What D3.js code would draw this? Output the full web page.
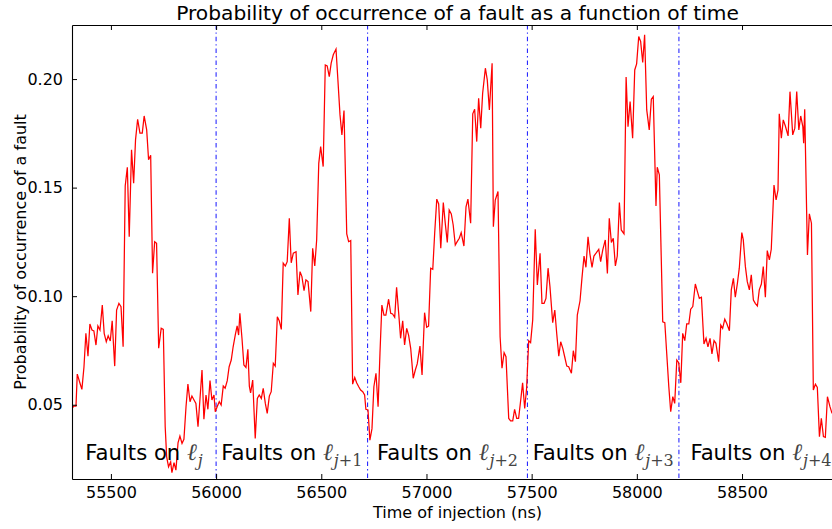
<!DOCTYPE html>
<html>
<head>
<meta charset="utf-8">
<script src="https://cdn.jsdelivr.net/npm/d3@7"></script>
<style>
  html, body { margin: 0; padding: 0; background: #fff; }
  svg { display: block; }
  text { font-family: "DejaVu Sans", sans-serif; }
</style>
</head>
<body>
<svg id="chart" width="832" height="529"></svg>
<script>
// Injection time (ns) of each measurement
const times = [
  55316,55324,55334,55340,55353,55362,55372,55381,55391,55400,55410,55419,55429,55438,55448,55459,
  55468,55478,55487,55497,55506,55518,55527,55538,55548,55558,55568,55578,55587,55598,55608,55617,
  55627,55638,55649,55658,55670,55679,55689,55698,55708,55717,55727,55739,55749,55758,55765,55774,
  55784,55790,55800,55809,55819,55828,55838,55847,55857,55866,55876,55885,55895,55904,55914,55923,
  55933,55942,55952,55961,55971,55980,55990,55996,56005,56015,56024,56034,56043,56053,56062,56072,
  56081,56091,56100,56107,56113,56123,56132,56142,56151,56158,56164,56174,56186,56196,56205,56215,
  56224,56234,56243,56253,56262,56272,56281,56291,56300,56310,56319,56329,56338,56348,56357,56367,
  56380,56389,56399,56408,56418,56427,56437,56450,56459,56469,56478,56488,56497,56509,56519,56528,
  56538,56547,56557,56570,56579,56589,56598,56608,56621,56630,56640,56649,56659,56668,56678,56687,
  56697,56706,56712,56722,56731,56741,56750,56760,56770,56779,56788,56798,56807,56820,56830,56839,
  56849,56858,56868,56877,56887,56896,56906,56915,56925,56937,56947,56956,56969,56979,56991,57001,
  57010,57020,57030,57039,57049,57058,57068,57080,57089,57099,57108,57118,57127,57137,57146,57156,
  57165,57178,57188,57197,57210,57220,57229,57239,57248,57258,57267,57280,57289,57299,57312,57318,
  57327,57340,57350,57359,57369,57378,57391,57400,57410,57419,57429,57438,57448,57457,57467,57476,
  57486,57495,57505,57517,57527,57540,57549,57559,57568,57578,57587,57600,57610,57619,57629,57638,
  57648,57657,57667,57676,57689,57698,57708,57717,57730,57739,57749,57758,57768,57777,57787,57796,
  57806,57819,57828,57838,57850,57860,57869,57879,57888,57898,57907,57917,57926,57939,57949,57958,
  57968,57980,57990,57999,58009,58018,58028,58037,58047,58059,58069,58078,58091,58097,58107,58123,
  58133,58142,58152,58161,58171,58180,58190,58199,58209,58218,58228,58237,58247,58256,58266,58278,
  58288,58297,58307,58319,58329,58338,58348,58357,58367,58376,58389,58399,58408,58418,58427,58440,
  58449,58459,58468,58478,58487,58499,58506,58516,58525,58535,58544,58554,58563,58573,58582,58592,
  58601,58611,58620,58630,58639,58652,58662,58671,58677,58687,58696,58706,58719,58728,58741,58751,
  58760,58770,58779,58789,58793,58798,58811,58820,58830,58839,58849,58858,58868,58877,58887,58896,
  58906,58918,58928
];

// Probability of occurrence of a fault at each injection time
const probability = [
  0.0485,0.0494,0.0494,0.0641,0.0599,0.0571,0.0675,0.0829,0.0724,0.0872,0.0844,0.0840,0.0775,0.0863,0.0844,0.0959,
  0.0829,0.0790,0.0817,0.0794,0.0887,0.0678,0.0936,0.0967,0.0952,0.0767,0.1508,0.1594,0.1274,0.1674,0.1520,0.1720,
  0.1815,0.1751,0.1751,0.1830,0.1766,0.1628,0.1649,0.1106,0.1251,0.1244,0.0760,0.0852,0.0847,0.0399,0.0260,0.0214,
  0.0237,0.0187,0.0233,0.0199,0.0325,0.0356,0.0322,0.0341,0.0491,0.0595,0.0514,0.0540,0.0522,0.0506,0.0399,0.0522,
  0.0660,0.0433,0.0545,0.0479,0.0611,0.0522,0.0545,0.0468,0.0491,0.0514,0.0499,0.0586,0.0576,0.0611,0.0675,0.0706,
  0.0767,0.0821,0.0863,0.0821,0.0921,0.0806,0.0683,0.0672,0.0755,0.0586,0.0555,0.0614,0.0345,0.0529,0.0545,0.0529,
  0.0576,0.0506,0.0460,0.0540,0.0560,0.0691,0.0678,0.0905,0.0887,0.0847,0.1152,0.1139,0.1159,0.1359,0.1154,0.1198,
  0.1205,0.1006,0.1113,0.1090,0.1025,0.1075,0.1067,0.0929,0.1221,0.1139,0.1259,0.1612,0.1689,0.1597,0.2065,0.2061,
  0.2011,0.2073,0.2112,0.2138,0.1996,0.1835,0.1743,0.1855,0.1287,0.1251,0.1256,0.0595,0.0626,0.0601,0.0583,0.0568,
  0.0560,0.0545,0.0479,0.0476,0.0337,0.0390,0.0583,0.0645,0.0491,0.0737,0.0959,0.0913,0.0913,0.0986,0.0921,0.0918,
  0.0903,0.1041,0.0921,0.0806,0.0887,0.0775,0.0852,0.0821,0.0760,0.0622,0.0660,0.0688,0.0770,0.0637,0.0924,0.0857,
  0.0862,0.1129,0.1124,0.1290,0.1447,0.1425,0.1221,0.1431,0.1339,0.1247,0.1397,0.1379,0.1328,0.1236,0.1251,0.1267,
  0.1293,0.1231,0.1412,0.1447,0.1336,0.1840,0.1861,0.1712,0.1912,0.1774,0.1935,0.2050,0.1996,0.1858,0.2073,0.1320,
  0.1443,0.1482,0.0813,0.0668,0.0740,0.0721,0.0437,0.0426,0.0426,0.0479,0.0437,0.0437,0.0522,0.0601,0.0483,0.0576,
  0.0795,0.0786,0.0890,0.1308,0.1052,0.1198,0.0967,0.0967,0.0990,0.1129,0.1044,0.0878,0.0936,0.0829,0.0724,0.0790,
  0.0760,0.0721,0.0678,0.0675,0.0645,0.0749,0.0698,0.0913,0.0979,0.1082,0.1185,0.1133,0.1274,0.1194,0.1133,0.1185,
  0.1198,0.1216,0.1159,0.1213,0.1259,0.1105,0.1359,0.1247,0.1267,0.1139,0.1185,0.1431,0.1305,0.1287,0.2009,0.1781,
  0.1896,0.1728,0.2042,0.2070,0.2196,0.2173,0.2076,0.2204,0.1858,0.1766,0.1907,0.1919,0.1416,0.1594,0.1559,0.0882,
  0.0878,0.0737,0.0583,0.0468,0.0537,0.0506,0.0706,0.0694,0.0601,0.0829,0.0795,0.0872,0.0872,0.0940,0.0952,0.1056,
  0.1021,0.0990,0.0995,0.0780,0.0806,0.0767,0.0806,0.0734,0.0795,0.0783,0.0698,0.0867,0.0852,0.0894,0.0875,0.0841,
  0.1029,0.1082,0.0995,0.1059,0.1129,0.1293,0.1259,0.1136,0.1067,0.1029,0.1098,0.0982,0.0967,0.0955,0.1029,0.1056,
  0.1136,0.0995,0.1210,0.1167,0.1216,0.1512,0.1443,0.1489,0.1840,0.1728,0.1812,0.1784,0.1738,0.1942,0.1743,0.1774,
  0.1942,0.1766,0.1830,0.1781,0.1705,0.1861,0.1190,0.1379,0.1336,0.0568,0.0595,0.0580,0.0353,0.0437,0.0353,0.0350,
  0.0537,0.0491,0.0460
];

// Boundaries between the injection windows of consecutive lines
const boundaries = [56000, 56720, 57480, 58200];
// Extent of each window (for centring the window labels)
const windowEdges = [55315, 56000, 56720, 57480, 58200, 58980];
const windowSubscripts = ["j", "j+1", "j+2", "j+3", "j+4"];

const xTicks = [55500, 56000, 56500, 57000, 57500, 58000, 58500];
const yTicks = [0.05, 0.10, 0.15, 0.20];

const W = 832, H = 529;
const margin = { left: 72, top: 25, right: -11, bottom: 50 };
const plotW = W - margin.left - margin.right;
const plotH = H - margin.top - margin.bottom;

const svg = d3.select("#chart");

const x = d3.scaleLinear().domain([55315, 58980]).range([0, plotW]);
const y = d3.scaleLinear().domain([0.0158, 0.2249]).range([plotH, 0]);

const g = svg.append("g").attr("transform", `translate(${margin.left},${margin.top})`);

// clip region for the data
g.append("clipPath").attr("id", "plotClip")
  .append("rect").attr("width", plotW).attr("height", plotH);

// window boundaries (dash-dot blue)
g.append("g").selectAll("line").data(boundaries).join("line")
  .attr("x1", d => x(d)).attr("x2", d => x(d))
  .attr("y1", 0).attr("y2", plotH)
  .attr("stroke", "#2a2aff").attr("stroke-width", 1.1)
  .attr("stroke-dasharray", "4.5,3,1.3,3");

// probability trace
const series = times.map((t, i) => ({ t, p: probability[i] }));
g.append("path")
  .datum(series)
  .attr("clip-path", "url(#plotClip)")
  .attr("fill", "none")
  .attr("stroke", "#ff0000")
  .attr("stroke-width", 1.25)
  .attr("stroke-linejoin", "miter")
  .attr("d", d3.line().x(d => x(d.t)).y(d => y(d.p)));

// window labels: "Faults on ℓ_sub"
const labelY = 460 - margin.top;
windowSubscripts.forEach((sub, i) => {
  const cx = x((windowEdges[i] + windowEdges[i + 1]) / 2);
  const t = g.append("text")
    .attr("x", cx).attr("y", labelY)
    .attr("text-anchor", "middle")
    .attr("font-size", 21.2)
    .attr("fill", "#000");
  t.append("tspan").text("Faults on ");
  t.append("tspan").text("ℓ")
    .attr("font-family", "'DejaVu Serif', serif").attr("font-style", "italic")
    .attr("font-size", 23.5).attr("fill", "#444");
  const parts = sub.match(/^([a-z])(.*)$/);
  t.append("tspan").text(parts[1])
    .attr("dy", 5.5).attr("dx", 1)
    .attr("font-family", "'DejaVu Serif', serif").attr("font-style", "italic")
    .attr("font-size", 16).attr("fill", "#444");
  if (parts[2]) {
    t.append("tspan").text(parts[2])
      .attr("font-family", "'DejaVu Serif', serif")
      .attr("font-size", 16).attr("fill", "#444");
  }
});

// axes: classic style, ticks pointing inward, mirrored on top
const tickLen = 5;
const xAxis = d3.axisBottom(x).tickValues(xTicks).tickFormat(d3.format("d"))
  .tickSizeInner(-tickLen).tickSizeOuter(0).tickPadding(8);
const gx = g.append("g").attr("transform", `translate(0,${plotH})`).call(xAxis);
gx.selectAll("text").attr("font-size", 16).attr("font-family", "'DejaVu Sans', sans-serif").attr("fill", "#000");

const xTop = d3.axisTop(x).tickValues(xTicks).tickFormat("").tickSizeInner(-tickLen).tickSizeOuter(0);
const gxt = g.append("g").call(xTop);

const yAxis = d3.axisLeft(y).tickValues(yTicks).tickFormat(d3.format(".2f"))
  .tickSizeInner(-tickLen).tickSizeOuter(0).tickPadding(9);
const gy = g.append("g").call(yAxis);
gy.selectAll("text").attr("font-size", 16).attr("font-family", "'DejaVu Sans', sans-serif").attr("fill", "#000");

[gx, gxt, gy].forEach(a => {
  a.select(".domain").attr("stroke", "#000").attr("stroke-width", 1.1);
  a.selectAll(".tick line").attr("stroke", "#000").attr("stroke-width", 1);
});

// title and axis labels
svg.append("text")
  .attr("x", margin.left + plotW / 2).attr("y", 20)
  .attr("text-anchor", "middle").attr("font-size", 20.2).attr("fill", "#000")
  .text("Probability of occurrence of a fault as a function of time");

svg.append("text")
  .attr("x", margin.left + plotW / 2).attr("y", 518)
  .attr("text-anchor", "middle").attr("font-size", 16).attr("fill", "#000")
  .text("Time of injection (ns)");

svg.append("text")
  .attr("transform", `translate(26,${margin.top + plotH / 2}) rotate(-90)`)
  .attr("text-anchor", "middle").attr("font-size", 16).attr("fill", "#000")
  .text("Probability of occurrence of a fault");
</script>
</body>
</html>
